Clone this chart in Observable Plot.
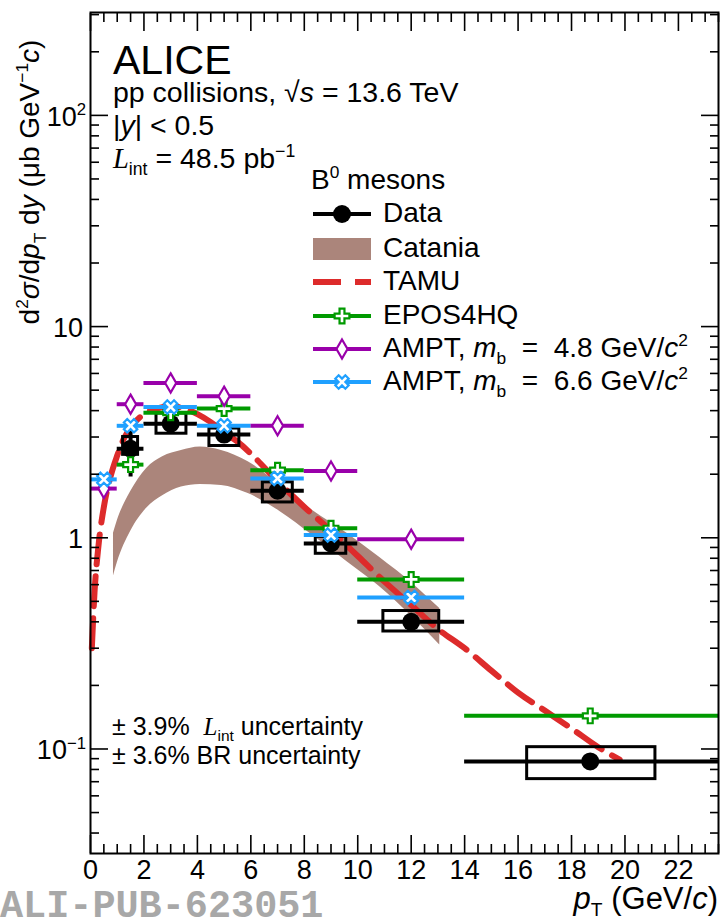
<!DOCTYPE html>
<html><head><meta charset="utf-8">
<script src="https://cdn.jsdelivr.net/npm/d3@7"></script>
<script src="https://cdn.jsdelivr.net/npm/@observablehq/plot@0.6"></script>
<style>
body{margin:0;background:#fff;}
#chart svg{display:block;font-family:"Liberation Sans",Arial,sans-serif;}
#chart text{white-space:pre;}
</style></head><body><div id="chart"></div>
<script>
// ---------- data ----------
const binLo = [1, 2, 4, 6, 8, 10, 14];
const binHi = [2, 4, 6, 8, 10, 14, 24];
const dataX = [1.5, 3, 5, 7, 9, 12, 18.7];
const dataY = [2.64, 3.47, 3.08, 1.67, 0.94, 0.40, 0.0873];
const dataStat = [0.7, 0.25, 0.18, 0.1, 0.05, 0.03, 0.006];
const sysX1 = [1.22, 2.47, 4.45, 6.45, 8.43, 10.96, 16.34];
const sysX2 = [1.78, 3.59, 5.57, 7.57, 9.57, 13.05, 21.14];
const sysLo = [2.47, 3.11, 2.72, 1.47, 0.84, 0.36, 0.072];
const sysHi = [3.0, 3.88, 3.29, 1.83, 1.01, 0.45, 0.102];

const catX  = [0.86, 1.0, 1.5, 2.1, 2.7, 3.4, 4.1, 4.9, 5.9, 7.1, 8.3, 9.6, 10.8, 12.1, 13.07];
const catLo = [0.66, 0.76, 1.07, 1.38, 1.58, 1.74, 1.79, 1.77, 1.62, 1.33, 1.03, 0.77, 0.59, 0.415, 0.311];
const catHi = [1.05, 1.2, 1.65, 2.13, 2.42, 2.59, 2.69, 2.59, 2.29, 1.77, 1.35, 1.05, 0.81, 0.60, 0.463];

const tamuX = [0.05, 0.15, 0.3, 0.5, 0.75, 1.0, 1.25, 1.6, 2.0, 2.5, 3.0, 3.5, 4.0, 4.5, 5.0, 5.5, 6.0, 7.0, 8.0, 9.0, 10.0, 11.0, 12.0, 13.0, 14.0, 15.0, 16.0, 17.0, 18.0, 19.0, 19.8];
const tamuY = [0.30, 0.55, 0.92, 1.40, 1.95, 2.45, 2.95, 3.45, 3.85, 4.1, 4.2, 4.1, 3.85, 3.53, 3.15, 2.85, 2.5, 1.85, 1.40, 1.08, 0.82, 0.62, 0.48, 0.37, 0.30, 0.235, 0.185, 0.152, 0.125, 0.102, 0.089];

const eposX  = [1.5, 3, 5, 7, 9, 12, 18.7];
const eposLo = [1, 2, 4, 6, 8, 10, 14];
const eposHi = [2, 4, 6, 8, 10, 14, 24];
const eposY  = [2.22, 3.91, 4.09, 2.09, 1.11, 0.635, 0.1435];

const amptX  = [0.5, 1.5, 3, 5, 7, 9, 12];
const amptLo = [0, 1, 2, 4, 6, 8, 10];
const amptHi = [1, 2, 4, 6, 8, 10, 14];
const ampt48Y = [1.71, 4.29, 5.41, 4.68, 3.39, 2.07, 0.985];
const ampt66Y = [1.89, 3.39, 4.16, 3.39, 1.91, 1.03, 0.522];

const xMajor = [0, 2, 4, 6, 8, 10, 12, 14, 16, 18, 20, 22];
const yMajor = [0.1, 1, 10, 100];
const yLabels = [["10", "−1"], ["1", null], ["10", null], ["10", "2"]];

// ---------- styles ----------
const W = 725, H = 920;
const mL = 90, mR = 7, mT = 12, mB = 67;
const cGreen = "#009a00", cMag = "#9900aa", cBlue = "#1fa0ff", cRed = "#dd2b2b", cCat = "#ab857b";

const dataRows = dataX.map((x, i) => ({x, y: dataY[i], lo: binLo[i], hi: binHi[i],
  s1: dataY[i] - dataStat[i], s2: dataY[i] + dataStat[i],
  bx1: sysX1[i], bx2: sysX2[i], by1: sysLo[i], by2: sysHi[i]}));
const catRows = catX.map((x, i) => ({x, lo: catLo[i], hi: catHi[i]}));
const tamuRows = tamuX.map((x, i) => ({x, y: tamuY[i]}));
const eposRows = eposX.map((x, i) => ({x, y: eposY[i], lo: eposLo[i], hi: eposHi[i]}));
const a48Rows = amptX.map((x, i) => ({x, y: ampt48Y[i], lo: amptLo[i], hi: amptHi[i]}));
const a66Rows = amptX.map((x, i) => ({x, y: ampt66Y[i], lo: amptLo[i], hi: amptHi[i]}));

const xDomain = [0, 23.5], yDomain = [0.032, 307];
const xMinor = d3.range(0, 23.51, 0.5).filter(v => v % 2 !== 0);
const yMinor = [];
for (const d of [0.01, 0.1, 1, 10, 100]) for (let k = 2; k <= 9; k++) { const v = d * k; if (v > yDomain[0] && v < yDomain[1]) yMinor.push(v); }

const modelMarks = (rows, color, symbol, r, rotate) => [
  Plot.ruleY(rows, {y: "y", x1: "lo", x2: "hi", stroke: color, strokeWidth: 4, clip: true}),
  Plot.dot(rows, {x: "x", y: "y", symbol, r, rotate, fill: "white", stroke: color, strokeWidth: 2.2})
];

const tickOpts = {tickFormat: () => "", label: null, stroke: "black", strokeWidth: 1.6};

const plot = Plot.plot({
  width: W, height: H,
  marginLeft: mL, marginRight: mR, marginTop: mT, marginBottom: mB,
  x: {domain: xDomain, axis: null},
  y: {type: "log", domain: yDomain, axis: null},
  style: {background: "white", fontFamily: "Liberation Sans, Arial, sans-serif"},
  marks: [
    Plot.areaY(catRows, {x: "x", y1: "lo", y2: "hi", fill: cCat, curve: "monotone-x"}),
    Plot.line(tamuRows, {x: "x", y: "y", stroke: cRed, strokeWidth: 6, strokeDasharray: "30,12", curve: "monotone-x"}),
    Plot.rect(dataRows, {x1: "bx1", x2: "bx2", y1: "by1", y2: "by2", fill: "none", stroke: "black", strokeWidth: 3}),
    Plot.ruleY(dataRows, {y: "y", x1: "lo", x2: "hi", stroke: "black", strokeWidth: 4, clip: true}),
    Plot.ruleX(dataRows, {x: "x", y1: "s1", y2: "s2", stroke: "black", strokeWidth: 4}),
    Plot.dot(dataRows, {x: "x", y: "y", r: 9, fill: "black"}),
    ...modelMarks(eposRows, cGreen, "cross", 6.2, 0),
    ...modelMarks(a48Rows, cMag, "diamond", 5.8, 0),
    ...modelMarks(a66Rows, cBlue, "cross", 6.0, 45),
    Plot.frame({stroke: "black", strokeWidth: 2}),
    Plot.axisX(xMajor, {anchor: "bottom", tickSize: -18, ...tickOpts}),
    Plot.axisX(xMinor, {anchor: "bottom", tickSize: -9, ...tickOpts}),
    Plot.axisX(xMajor, {anchor: "top", tickSize: -18, ...tickOpts}),
    Plot.axisX(xMinor, {anchor: "top", tickSize: -9, ...tickOpts}),
    Plot.axisY(yMajor, {anchor: "left", tickSize: -18, ...tickOpts}),
    Plot.axisY(yMinor, {anchor: "left", tickSize: -9, ...tickOpts}),
    Plot.axisY(yMajor, {anchor: "right", tickSize: -18, ...tickOpts}),
    Plot.axisY(yMinor, {anchor: "right", tickSize: -9, ...tickOpts}),
    Plot.axisX(xMajor, {anchor: "bottom", tickSize: 0, tickPadding: 6, fontSize: 27, label: null, tickFormat: d => String(d)})
  ]
});
document.getElementById("chart").appendChild(plot);

// ---------- rich text helper ----------
const svg = d3.select(plot);
const g = svg.append("g");
function rich(x, y, parts, {size = 28, anchor = "start", transform = null, fill = "black", family = null, weight = null} = {}) {
  const t = g.append("text").attr("x", x).attr("y", y).attr("font-size", size)
    .attr("text-anchor", anchor).attr("fill", fill);
  if (transform) t.attr("transform", transform);
  if (family) t.attr("font-family", family);
  if (weight) t.attr("font-weight", weight);
  let shift = 0;
  for (const p of parts) {
    const [str, o] = typeof p === "string" ? [p, {}] : p;
    const ts = t.append("tspan").text(str);
    const fs = (o.sup || o.sub) ? size * 0.62 : size;
    ts.attr("font-size", fs);
    const target = o.sup ? -size * 0.4 : o.sub ? size * 0.24 : 0;
    ts.attr("dy", target - shift); shift = target;
    if (o.i) ts.attr("font-style", "italic");
    if (o.serif) ts.attr("font-family", "Liberation Serif, serif");
    if (o.dx) ts.attr("dx", o.dx);
  }
  return t;
}

const ys = plot.scale("y");

// y tick labels
yMajor.forEach((v, i) => {
  const [base, sup] = yLabels[i];
  const parts = sup ? [base, [sup, {sup: true}]] : [base];
  rich(sup ? 86 : 83, ys.apply(v) + 11, parts, {size: 27, anchor: "end"});
});

// header text
rich(113, 74, ["ALICE"], {size: 41});
rich(113, 102, ["pp collisions, ", "√", ["s", {i: true}], " = 13.6 TeV"], {size: 28.5});
rich(113, 135, ["|", ["y", {i: true}], "| < 0.5"], {size: 28.5});
rich(113, 168, [["L", {i: true, serif: true}], ["int", {sub: true}], " = 48.5 pb", ["−1", {sup: true}]], {size: 28.5});
rich(311, 189, ["B", ["0", {sup: true}], " mesons"], {size: 28});

// legend
const lx1 = 313, lx2 = 371, lxm = 342, ltx = 383;
const legY = [214, 249, 282, 316, 349, 382];
const legBase = [222, 257, 290, 324, 357, 390];
g.append("line").attr("x1", lx1).attr("x2", lx2).attr("y1", legY[0]).attr("y2", legY[0]).attr("stroke", "black").attr("stroke-width", 4);
g.append("circle").attr("cx", lxm).attr("cy", legY[0]).attr("r", 9).attr("fill", "black");
g.append("rect").attr("x", lx1).attr("y", legY[1] - 11).attr("width", lx2 - lx1).attr("height", 22).attr("fill", cCat);
g.append("line").attr("x1", lx1).attr("x2", lx2).attr("y1", legY[2]).attr("y2", legY[2]).attr("stroke", cRed).attr("stroke-width", 6).attr("stroke-dasharray", "28,14");
const legSym = (yy, color, type, r, rot) => {
  g.append("line").attr("x1", lx1).attr("x2", lx2).attr("y1", yy).attr("y2", yy).attr("stroke", color).attr("stroke-width", 4);
  g.append("path").attr("d", d3.symbol(type, Math.PI * r * r)()).attr("transform", `translate(${lxm},${yy}) rotate(${rot})`)
    .attr("fill", "white").attr("stroke", color).attr("stroke-width", 2.2);
};
legSym(legY[3], cGreen, d3.symbolCross, 6.2, 0);
legSym(legY[4], cMag, d3.symbolDiamond, 5.8, 0);
legSym(legY[5], cBlue, d3.symbolCross, 6.0, 45);
rich(ltx, legBase[0], ["Data"]);
rich(ltx, legBase[1], ["Catania"]);
rich(ltx, legBase[2], ["TAMU"]);
rich(ltx, legBase[3], ["EPOS4HQ"]);
rich(ltx, legBase[4], ["AMPT, ", ["m", {i: true}], ["b", {sub: true}], "  =  4.8 GeV/", ["c", {i: true}], ["2", {sup: true}]]);
rich(ltx, legBase[5], ["AMPT, ", ["m", {i: true}], ["b", {sub: true}], "  =  6.6 GeV/", ["c", {i: true}], ["2", {sup: true}]]);

// uncertainty notes
rich(112, 735, ["± 3.9%  ", ["L", {i: true, serif: true}], ["int", {sub: true}], " uncertainty"], {size: 25});
rich(112, 764, ["± 3.6% BR uncertainty"], {size: 25});

// axis titles
rich(718, 909, [["p", {i: true}], ["T", {sub: true}], " (GeV/", ["c", {i: true}], ")"], {size: 31, anchor: "end"});
rich(0, 0, ["d", ["2", {sup: true}], ["σ", {i: true}], "/d", ["p", {i: true}], ["T", {sub: true}], " d", ["y", {i: true}], " (μb GeV", ["−1", {sup: true}], ["c", {i: true}], ")"],
  {size: 28, anchor: "middle", transform: "translate(39,182) rotate(-90)"});

// figure id
rich(0, 917, ["ALI-PUB-623051"], {size: 38.5, fill: "#a8a8a8", family: "Liberation Mono, monospace", weight: "bold"});
</script></body></html>
